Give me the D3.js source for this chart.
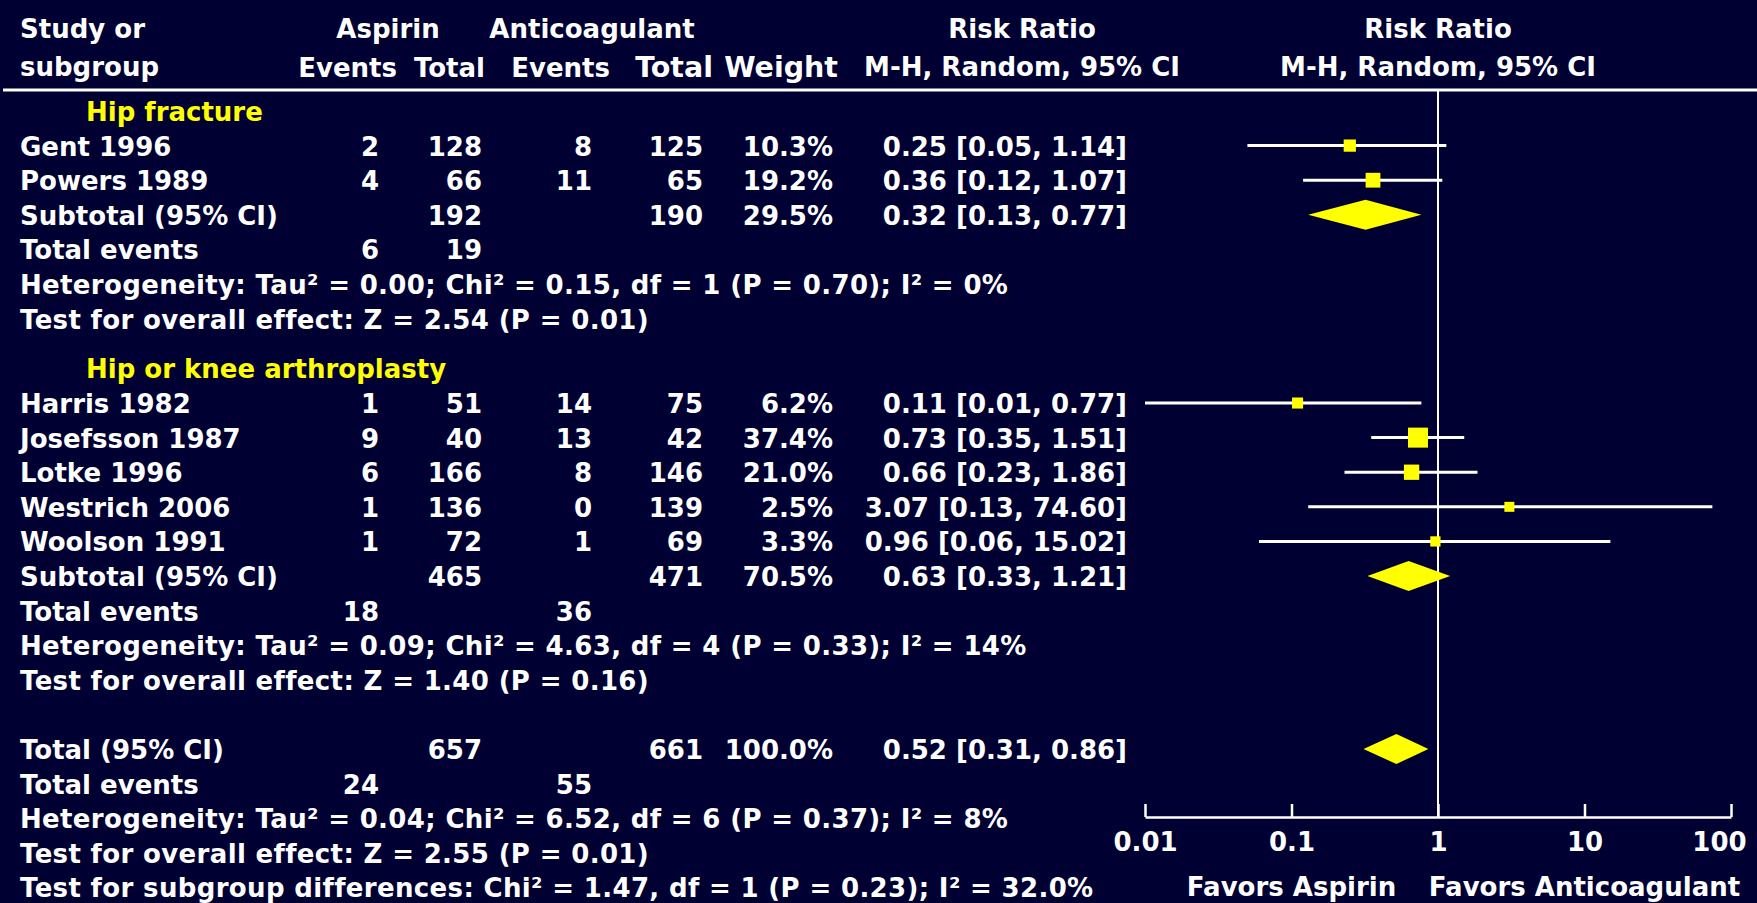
<!DOCTYPE html>
<html>
<head>
<meta charset="utf-8">
<script src="https://cdn.jsdelivr.net/npm/d3@7"></script>
<style>
  html, body { margin: 0; padding: 0; background: #000033; }
  svg { display: block; }
  text { font-family: "DejaVu Sans", Verdana, sans-serif; font-weight: bold; fill: #ffffff; }
</style>
</head>
<body>
<svg id="chart" width="1757" height="903"></svg>
<script>
// ---- data ----
const studies = ["Gent 1996", "Powers 1989", "Harris 1982", "Josefsson 1987", "Lotke 1996", "Westrich 2006", "Woolson 1991"];
const studyGroup = [0, 0, 1, 1, 1, 1, 1];
const aspEvents = [2, 4, 1, 9, 6, 1, 1];
const aspTotal = [128, 66, 51, 40, 166, 136, 72];
const antEvents = [8, 11, 14, 13, 8, 0, 1];
const antTotal = [125, 65, 75, 42, 146, 139, 69];
const weights = [10.3, 19.2, 6.2, 37.4, 21.0, 2.5, 3.3];
const rr = [0.25, 0.36, 0.11, 0.73, 0.66, 3.07, 0.96];
const rrLo = [0.05, 0.12, 0.01, 0.35, 0.23, 0.13, 0.06];
const rrHi = [1.14, 1.07, 0.77, 1.51, 1.86, 74.60, 15.02];

const groups = ["Hip fracture", "Hip or knee arthroplasty"];
const groupAspTotal = [192, 465];
const groupAntTotal = [190, 471];
const groupWeight = [29.5, 70.5];
const groupRR = [0.32, 0.63];
const groupLo = [0.13, 0.33];
const groupHi = [0.77, 1.21];
const groupAspEvents = [6, 18];
const groupAntEvents = [19, 36];
const groupHet = ["Heterogeneity: Tau² = 0.00; Chi² = 0.15, df = 1 (P = 0.70); I² = 0%",
                  "Heterogeneity: Tau² = 0.09; Chi² = 4.63, df = 4 (P = 0.33); I² = 14%"];
const groupEffect = ["Test for overall effect: Z = 2.54 (P = 0.01)",
                     "Test for overall effect: Z = 1.40 (P = 0.16)"];

const totalAsp = 657, totalAnt = 661, totalWeight = 100.0;
const totalRR = 0.52, totalLo = 0.31, totalHi = 0.86;
const totalAspEvents = 24, totalAntEvents = 55;
const totalHet = "Heterogeneity: Tau² = 0.04; Chi² = 6.52, df = 6 (P = 0.37); I² = 8%";
const totalEffect = "Test for overall effect: Z = 2.55 (P = 0.01)";
const subgroupDiff = "Test for subgroup differences: Chi² = 1.47, df = 1 (P = 0.23); I² = 32.0%";

const axisTicks = [0.01, 0.1, 1, 10, 100];
const favorLabels = ["Favors Aspirin", "Favors Anticoagulant"];

// ---- layout ----
const svg = d3.select("#chart");
svg.append("rect").attr("width", 1757).attr("height", 903).attr("fill", "#000033");

const fs = 26;
// column right edges
const col = { label: 20, group: 86, aspEv: 379, aspTot: 482, antEv: 592, antTot: 703, weight: 833, rr: 1127 };

const x = d3.scaleLog().domain([0.01, 100]).range([1145, 1731]);
const rowY = d3.scaleLinear().domain([0, 1]).range([121, 155.6]);
const boxSize = d3.scaleLinear().domain([2.5, 37.4]).range([10, 20]);

const fmt2 = d3.format(".2f");
const ciText = (m, l, h) => fmt2(m) + " [" + fmt2(l) + ", " + fmt2(h) + "]";
const pct = d3.format(".1f");

// build the table rows
let rows = [];
let r = 0;
groups.forEach((g, gi) => {
  if (gi > 0) r += 0.44;
  rows.push({ r: r++, kind: "group", label: g });
  studies.forEach((s, i) => {
    if (studyGroup[i] !== gi) return;
    rows.push({ r: r++, kind: "study", label: s,
      cells: [aspEvents[i], aspTotal[i], antEvents[i], antTotal[i], pct(weights[i]) + "%", ciText(rr[i], rrLo[i], rrHi[i])],
      est: rr[i], lo: rrLo[i], hi: rrHi[i], w: weights[i] });
  });
  rows.push({ r: r++, kind: "sub", label: "Subtotal (95% CI)",
    cells: ["", groupAspTotal[gi], "", groupAntTotal[gi], pct(groupWeight[gi]) + "%", ciText(groupRR[gi], groupLo[gi], groupHi[gi])],
    est: groupRR[gi], lo: groupLo[gi], hi: groupHi[gi] });
  // first group's anticoagulant events sit under the aspirin total column in the original
  rows.push({ r: r++, kind: "events", label: "Total events",
    cells: gi === 0 ? [groupAspEvents[gi], groupAntEvents[gi], "", "", "", ""] : [groupAspEvents[gi], "", groupAntEvents[gi], "", "", ""] });
  rows.push({ r: r++, kind: "note", label: groupHet[gi] });
  rows.push({ r: r++, kind: "note", label: groupEffect[gi] });
});
r += 1;
rows.push({ r: r++, kind: "sub", label: "Total (95% CI)",
  cells: ["", totalAsp, "", totalAnt, pct(totalWeight) + "%", ciText(totalRR, totalLo, totalHi)],
  est: totalRR, lo: totalLo, hi: totalHi });
rows.push({ r: r++, kind: "events", label: "Total events", cells: [totalAspEvents, "", totalAntEvents, "", "", ""] });
rows.push({ r: r++, kind: "note", label: totalHet });
rows.push({ r: r++, kind: "note", label: totalEffect });
rows.push({ r: r++, kind: "note", label: subgroupDiff });

// header
const header = svg.append("g").attr("font-size", fs);
header.append("text").attr("x", col.label).attr("y", 38).text("Study or");
header.append("text").attr("x", col.label).attr("y", 76).text("subgroup");
header.append("text").attr("x", 388).attr("y", 38).attr("text-anchor", "middle").text("Aspirin");
header.append("text").attr("x", 592).attr("y", 38).attr("text-anchor", "middle").text("Anticoagulant");
const subHeads = [["Events", 397, fs], ["Total", 485, fs], ["Events", 610, fs], ["Total", 713, 28.5], ["Weight", 838, 28.5]];
subHeads.forEach(([t, xr, size]) => {
  header.append("text").attr("x", xr).attr("y", 77).attr("font-size", size)
    .attr("text-anchor", "end").text(t);
});
header.append("text").attr("x", 1022).attr("y", 38).attr("text-anchor", "middle").text("Risk Ratio");
header.append("text").attr("x", 1022).attr("y", 76).attr("text-anchor", "middle").text("M-H, Random, 95% CI");
header.append("text").attr("x", x(1)).attr("y", 38).attr("text-anchor", "middle").text("Risk Ratio");
header.append("text").attr("x", x(1)).attr("y", 76).attr("text-anchor", "middle").text("M-H, Random, 95% CI");

svg.append("line").attr("x1", 3).attr("x2", 1757).attr("y1", 90).attr("y2", 90)
  .attr("stroke", "#ffffff").attr("stroke-width", 3);

// vertical line of no effect
svg.append("line").attr("x1", x(1)).attr("x2", x(1)).attr("y1", 90).attr("y2", 817)
  .attr("stroke", "#ffffff").attr("stroke-width", 2);

// table text
const table = svg.append("g").attr("font-size", fs);
const cellX = [col.aspEv, col.aspTot, col.antEv, col.antTot, col.weight, col.rr];
rows.forEach(d => {
  const y = rowY(d.r);
  table.append("text")
    .attr("x", d.kind === "group" ? col.group : col.label)
    .attr("y", y)
    .attr("letter-spacing", d.kind === "note" ? 0.35 : null)
    .style("fill", d.kind === "group" ? "#ffff00" : "#ffffff")
    .text(d.label);
  if (d.cells) {
    d.cells.forEach((c, ci) => {
      if (c === "") return;
      table.append("text").attr("x", cellX[ci]).attr("y", y).attr("text-anchor", "end").text(c);
    });
  }
});

// forest marks
const plot = svg.append("g");
const studyRows = rows.filter(d => d.kind === "study");
plot.selectAll("line.ci").data(studyRows).join("line")
  .attr("class", "ci")
  .attr("x1", d => x(Math.max(d.lo, 0.01))).attr("x2", d => x(Math.min(d.hi, 100)))
  .attr("y1", d => rowY(d.r) - 10).attr("y2", d => rowY(d.r) - 10)
  .attr("stroke", "#ffffff").attr("stroke-width", 3);
plot.selectAll("rect.box").data(studyRows).join("rect")
  .attr("class", "box")
  .attr("x", d => x(d.est) - boxSize(d.w) / 2)
  .attr("y", d => rowY(d.r) - 10 - boxSize(d.w) / 2)
  .attr("width", d => boxSize(d.w)).attr("height", d => boxSize(d.w))
  .attr("fill", "#ffff00");

const subRows = rows.filter(d => d.kind === "sub");
plot.selectAll("path.diamond").data(subRows).join("path")
  .attr("class", "diamond")
  .attr("d", d => {
    const cy = rowY(d.r) - 10, h = 15;
    return `M${x(d.lo)},${cy}L${x(d.est)},${cy - h}L${x(d.hi)},${cy}L${x(d.est)},${cy + h}Z`;
  })
  .attr("fill", "#ffff00");

// axis
const axis = svg.append("g").attr("transform", "translate(0,817)")
  .call(d3.axisBottom(x).tickValues(axisTicks).tickFormat(d3.format("~g"))
    .tickSize(-13).tickSizeOuter(0).tickPadding(16));
axis.selectAll("path, line").attr("stroke", "#ffffff").attr("stroke-width", 2.5);
axis.attr("font-family", null).attr("font-size", fs);
axis.selectAll("text").style("fill", "#ffffff");
// keep the last label inside the picture
axis.selectAll(".tick").filter(d => d === 100).select("text").attr("dx", -12);

svg.selectAll("text.favor").data(favorLabels).join("text")
  .attr("class", "favor")
  .attr("x", (d, i) => x(i === 0 ? 0.1 : 10))
  .attr("y", 896)
  .attr("text-anchor", "middle")
  .attr("font-size", fs)
  .text(d => d);
</script>
</body>
</html>
